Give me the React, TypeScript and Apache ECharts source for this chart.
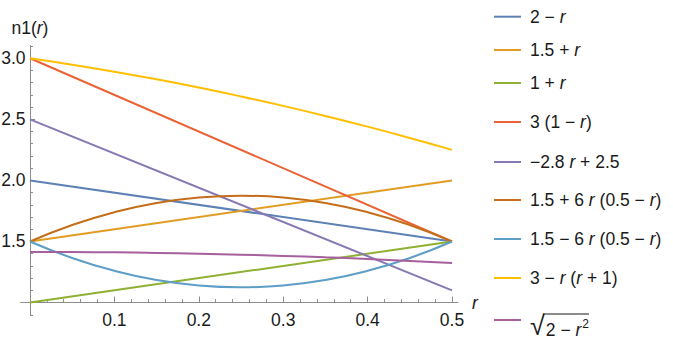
import React, { useEffect, useRef } from "react";
import * as echarts from "echarts";

const FONT = '"Liberation Sans", Arial, Helvetica, sans-serif';
const TEXT_COLOR = "#1a1a1a";
const AXIS_COLOR = "#8c8c8c";

// sample positions (r)
const rEnds = [0, 0.5];
const rSamples = [0, 0.05, 0.1, 0.15, 0.2, 0.25, 0.3, 0.35, 0.4, 0.45, 0.5];

// series values
const twoMinusR = [2.0, 1.5];
const onePointFivePlusR = [1.5, 2.0];
const onePlusR = [1.0, 1.5];
const threeTimesOneMinusR = [3.0, 1.5];
const purpleLine = [2.5, 1.1];
const upperParabola = [1.5, 1.635, 1.74, 1.815, 1.86, 1.875, 1.86, 1.815, 1.74, 1.635, 1.5];
const lowerParabola = [1.5, 1.365, 1.26, 1.185, 1.14, 1.125, 1.14, 1.185, 1.26, 1.365, 1.5];
const yellowCurve = [3.0, 2.9475, 2.89, 2.8275, 2.76, 2.6875, 2.61, 2.5275, 2.44, 2.3475, 2.25];
const sqrtCurve = [1.414, 1.413, 1.411, 1.406, 1.4, 1.392, 1.382, 1.37, 1.357, 1.341, 1.323];

const seriesNames = [
  "2 − r",
  "1.5 + r",
  "1 + r",
  "3 (1 − r)",
  "−2.8 r + 2.5",
  "1.5 + 6 r (0.5 − r)",
  "1.5 − 6 r (0.5 − r)",
  "3 − r (r + 1)",
  "√(2 − r²)",
];
const seriesX = [rEnds, rEnds, rEnds, rEnds, rEnds, rSamples, rSamples, rSamples, rSamples];
const seriesY = [
  twoMinusR,
  onePointFivePlusR,
  onePlusR,
  threeTimesOneMinusR,
  purpleLine,
  upperParabola,
  lowerParabola,
  yellowCurve,
  sqrtCurve,
];
const seriesColors = [
  "#5E81B5",
  "#E19C24",
  "#8FB032",
  "#EB6235",
  "#8778B3",
  "#C56E1A",
  "#5D9EC7",
  "#FFBF00",
  "#A5609D",
];
const legendLabels = [
  "{p|2 − }{i|r}",
  "{p|1.5 + }{i|r}",
  "{p|1 + }{i|r}",
  "{p|3 (1 − }{i|r}{t|)}",
  "{p|−2.8 }{i|r}{t| + 2.5}",
  "{p|1.5 + 6 }{i|r}{t| (0.5 − }{i|r}{t|)}",
  "{p|1.5 − 6 }{i|r}{t| (0.5 − }{i|r}{t|)}",
  "{p|3 − }{i|r}{t| (}{i|r}{t| + 1)}",
  "{rad|√}{tb|2 − }{ib|r}{sup|2}",
];
const legendCenters = [16.7, 50, 83, 122, 162, 200, 239, 278, 320];

// ticks
const xMajorTicks = [0.1, 0.2, 0.3, 0.4, 0.5];
const xMinorTicks = [
  0.02, 0.04, 0.06, 0.08, 0.12, 0.14, 0.16, 0.18, 0.22, 0.24, 0.26, 0.28, 0.32, 0.34, 0.36,
  0.38, 0.42, 0.44, 0.46, 0.48,
];
const yMajorTicks = [1.5, 2.0, 2.5, 3.0];
const yMinorTicks = [
  0.9, 1.1, 1.2, 1.3, 1.4, 1.6, 1.7, 1.8, 1.9, 2.1, 2.2, 2.3, 2.4, 2.6, 2.7, 2.8, 2.9, 3.1,
];

// axes cross at (X_CROSS, Y_CROSS)
const X_CROSS = 0;
const Y_CROSS = 1.0;
const X_MIN = -0.011;
const X_MAX = 0.507;
const Y_MIN = 0.895;
const Y_MAX = 3.105;

const GRID_LEFT = 20.7;
const GRID_TOP = 45.4;
const GRID_W = 437.2;
const GRID_H = 270;

// shift the axes from the grid edge to the crossing point
const X_AXIS_OFFSET = -((Y_CROSS - Y_MIN) / (Y_MAX - Y_MIN)) * GRID_H;
const Y_AXIS_OFFSET = -((X_CROSS - X_MIN) / (X_MAX - X_MIN)) * GRID_W;

const FS = 17.5;
const baseText = { fontFamily: FONT, fontSize: FS, color: TEXT_COLOR, lineHeight: 20 };
const rich: any = {
  t: { ...baseText },
  p: { ...baseText, padding: [0, 0, 0, 4] },
  i: { ...baseText, fontStyle: "italic" },
  rad: { ...baseText, fontSize: 27, lineHeight: 38, verticalAlign: "bottom", padding: [0, 1, 0, 4] },
  tb: { ...baseText, verticalAlign: "bottom" },
  ib: { ...baseText, fontStyle: "italic", verticalAlign: "bottom" },
  sup: { ...baseText, fontSize: 12, verticalAlign: "bottom", padding: [0, 0, 9, 1] },
};

export default function App() {
  const ref = useRef<HTMLDivElement>(null);

  useEffect(() => {
    if (!ref.current) return;
    const chart = echarts.init(ref.current, undefined, { renderer: "svg" });

    const tickLine = { color: AXIS_COLOR, width: 1 };
    const hiddenLine = { color: "rgba(0,0,0,0)", width: 0 };
    const option: any = {
      animation: false,
      backgroundColor: "#ffffff",
      grid: {
        left: GRID_LEFT,
        top: GRID_TOP,
        width: GRID_W,
        height: GRID_H,
        containLabel: false,
        outerBoundsMode: "none",
      },
      xAxis: [
        {
          type: "value",
          position: "bottom",
          offset: X_AXIS_OFFSET,
          min: X_MIN,
          max: X_MAX,
          axisLine: { show: true, onZero: false, lineStyle: { color: AXIS_COLOR, width: 1 } },
          axisTick: { inside: true, length: 3.5, customValues: xMinorTicks, lineStyle: tickLine },
          axisLabel: { show: false },
          splitLine: { show: false },
          name: "r",
          nameLocation: "end",
          nameGap: 14,
          nameTextStyle: { ...baseText, fontStyle: "italic", verticalAlign: "middle", padding: [4, 0, 0, 0] },
        },
        {
          type: "value",
          position: "bottom",
          offset: X_AXIS_OFFSET,
          min: X_MIN,
          max: X_MAX,
          axisLine: { show: true, onZero: false, lineStyle: hiddenLine },
          axisTick: { inside: true, length: 6, customValues: xMajorTicks, lineStyle: tickLine },
          axisLabel: {
            customValues: xMajorTicks,
            formatter: (v: number) => v.toFixed(1),
            margin: 8.5,
            fontFamily: FONT,
            fontSize: FS,
            color: TEXT_COLOR,
          },
          splitLine: { show: false },
        },
      ],
      yAxis: [
        {
          type: "value",
          position: "left",
          offset: Y_AXIS_OFFSET,
          min: Y_MIN,
          max: Y_MAX,
          axisLine: { show: true, onZero: false, lineStyle: { color: AXIS_COLOR, width: 1 } },
          axisTick: { inside: true, length: 3, customValues: yMinorTicks, lineStyle: tickLine },
          axisLabel: { show: false },
          splitLine: { show: false },
          name: "{t|n1(}{i|r}{t|)}",
          nameLocation: "end",
          nameGap: 7,
          nameTextStyle: { ...baseText, rich: { t: { ...baseText }, i: { ...baseText, fontStyle: "italic" } } },
        },
        {
          type: "value",
          position: "left",
          offset: Y_AXIS_OFFSET,
          min: Y_MIN,
          max: Y_MAX,
          axisLine: { show: true, onZero: false, lineStyle: hiddenLine },
          axisTick: { inside: true, length: 5, customValues: yMajorTicks, lineStyle: tickLine },
          axisLabel: {
            customValues: yMajorTicks,
            formatter: (v: number) => v.toFixed(1),
            margin: 4.5,
            fontFamily: FONT,
            fontSize: FS,
            color: TEXT_COLOR,
          },
          splitLine: { show: false },
        },
      ],
      legend: seriesNames.map((name, i) => ({
        data: [name],
        left: 494,
        top: legendCenters[i] - (i === 8 ? 19 : 10),
        padding: 0,
        itemWidth: 27,
        itemHeight: 2,
        icon: "rect",
        selectedMode: false,
        formatter: () => legendLabels[i],
        textStyle: { ...baseText, rich },
      })),
      graphic: [
        {
          type: "line",
          shape: { x1: 543, y1: 314, x2: 589, y2: 314 },
          style: { stroke: TEXT_COLOR, lineWidth: 1 },
          silent: true,
        },
      ],
      series: seriesNames.map((name, i) => ({
        name,
        type: "line",
        xAxisIndex: 0,
        yAxisIndex: 0,
        data: seriesX[i].map((x, k) => [x, seriesY[i][k]]),
        showSymbol: false,
        symbol: "none",
        smooth: seriesX[i].length > 2,
        lineStyle: { width: 2, color: seriesColors[i] },
        itemStyle: { color: seriesColors[i] },
        silent: true,
      })),
    };

    chart.setOption(option);
    return () => chart.dispose();
  }, []);

  return (
    <div
      ref={ref}
      style={{ position: "fixed", left: 0, top: 0, width: 673, height: 344, background: "#fff" }}
    />
  );
}
